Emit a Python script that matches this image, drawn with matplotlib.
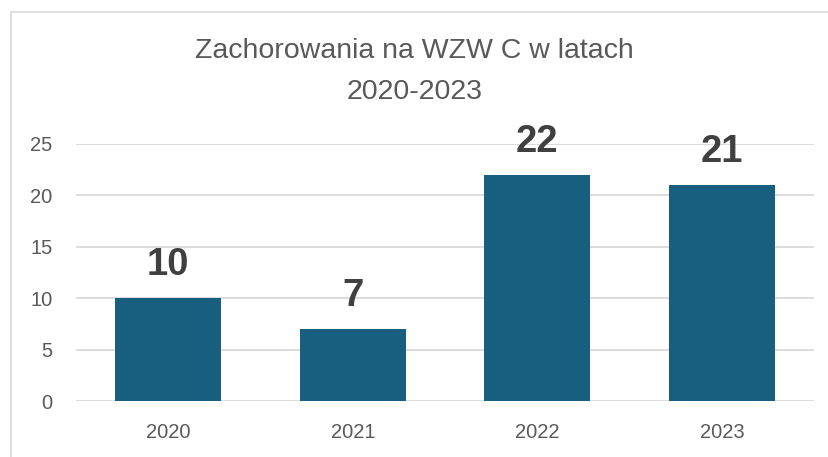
import matplotlib.pyplot as plt
from matplotlib.lines import Line2D

years = ["2020", "2021", "2022", "2023"]
cases = [10, 7, 22, 21]
yticks = [0, 5, 10, 15, 20, 25]

plt.rcParams['font.family'] = ['Liberation Sans', 'DejaVu Sans']

fig = plt.figure(figsize=(8.29, 4.57), dpi=100)
ax = fig.add_axes([0.0917, 0.1225, 0.8903, 0.5625])

x = range(len(years))
bars = ax.bar(x, cases, width=0.575, color='#175E7F', zorder=2)

for xi, v in zip(x, cases):
    ax.annotate(str(v), (xi, v), xytext=(0, 16.5), textcoords='offset points',
                ha='center', va='baseline', fontsize=27.5, fontweight='bold',
                color='#404040', annotation_clip=False, zorder=3)

ax.set_xlim(-0.5, len(years) - 0.5)
ax.set_ylim(0, 25)
ax.set_yticks(yticks)
ax.set_xticks(list(x))
ax.set_xticklabels(years)
ax.tick_params(axis='both', length=0, labelsize=14.5, labelcolor='#595959')
ax.tick_params(axis='x', pad=16)
ax.tick_params(axis='y', pad=17)
ax.yaxis.grid(True, color='#D9D9D9', linewidth=1.3, zorder=0)
ax.set_axisbelow(True)
for s in ax.spines.values():
    s.set_visible(False)

fig.text(0.5, 1 - 51 / 457, "Zachorowania na WZW C w latach", ha='center', va='center',
         fontsize=20.5, color='#595959')
fig.text(0.5, 1 - 92 / 457, "2020-2023", ha='center', va='center',
         fontsize=20.5, color='#595959')

# chart frame (left and top edges visible)
fig.add_artist(Line2D([11 / 829, 11 / 829], [0, 1 - 12 / 457], color='#D9D9D9', linewidth=1.2))
fig.add_artist(Line2D([11 / 829, 1], [1 - 12 / 457, 1 - 12 / 457], color='#D9D9D9', linewidth=1.2))

fig.savefig('out.png', dpi=100)
